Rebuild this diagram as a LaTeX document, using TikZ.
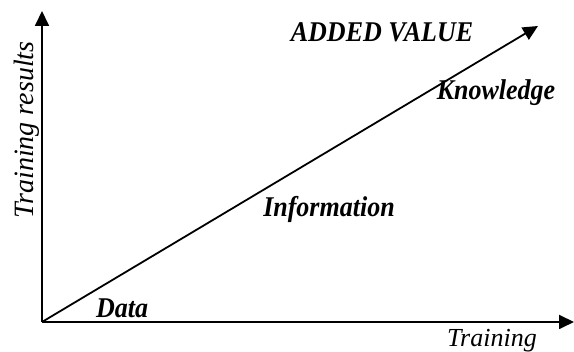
\documentclass[tikz,border=0pt]{standalone}
\usepackage{fontspec}
\setmainfont{Liberation Serif}
\usepackage{tikz}
\usetikzlibrary{arrows.meta, calc, positioning}
\tikzstyle{axe} = [
    line width = 1.8pt,
    -{Triangle[length = 15pt, width = 14pt]},
]
\tikzstyle{titre} = [
    font = \fontsize{26}{28}\selectfont\itshape,
    inner sep = 0pt,
]
\tikzstyle{etape} = [
    font = \fontsize{26}{28}\selectfont\bfseries\itshape,
    inner sep = 0pt,
    anchor = base,
    yscale = 1.1,
]

\begin{document}
\begin{tikzpicture} [x = 1pt, y = 1pt]
    \useasboundingbox (0, 0) rectangle (574, 352);

    \coordinate (Origine) at (42, 30);
    \coordinate (HautY) at (42, 341);
    \coordinate (DroiteX) at (574, 30);
    \coordinate (Valeur) at (538, 326);

    \draw[axe] (Origine) -- (HautY);
    \draw[axe] (Origine) -- (DroiteX);
    \draw[axe] (Origine) -- (Valeur);

    \node (Resultats) [titre, font = \fontsize{28}{30}\selectfont\itshape, rotate = 90, anchor = base] at (33, 222) {Training results};
    \node (Formation) [titre, anchor = base] at (492, 5) {Training};

    \node (Ajout) [etape] at (382, 310) {ADDED VALUE};
    \node (Connaissance) [etape] at (496, 252) {Knowledge};
    \node (Information) [etape] at (329, 135) {Information};
    \node (Donnees) [etape] at (122, 34) {Data};
\end{tikzpicture}
\end{document}
